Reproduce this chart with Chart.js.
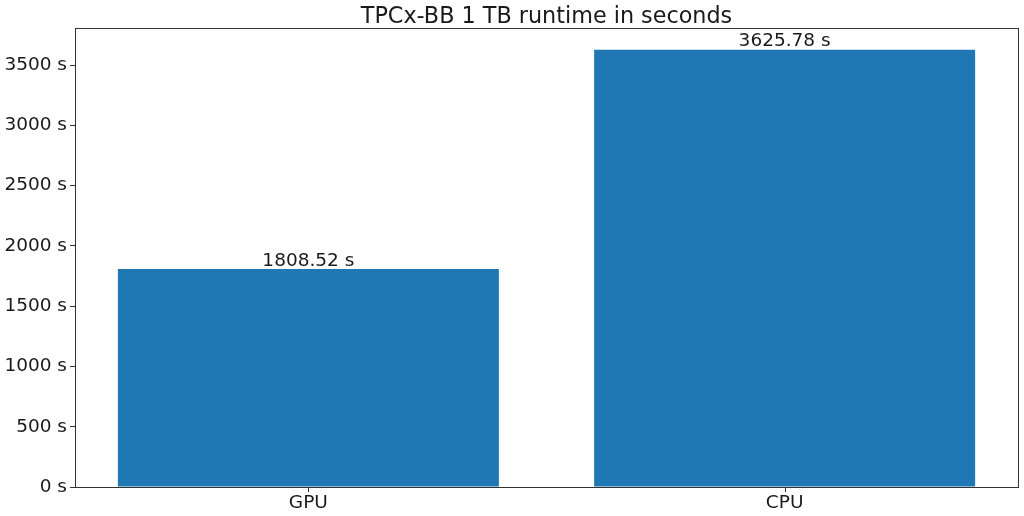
<!DOCTYPE html>
<html>
<head>
<meta charset="utf-8">
<script src="https://cdn.jsdelivr.net/npm/chart.js@4"></script>
<style>
  html, body { margin: 0; padding: 0; background: #fff; }
  #wrap { width: 1024px; height: 516px; }
</style>
</head>
<body>
<div id="wrap"><canvas id="runtimeBar"></canvas></div>
<script>
var categories = ["GPU", "CPU"];
var runtimes = [1808.52, 3625.78];
var yTicks = [0, 500, 1000, 1500, 2000, 2500, 3000, 3500];
var titleText = "TPCx-BB 1 TB runtime in seconds";

var FONT = "'DejaVu Sans', sans-serif";
var INK = "#1a1a1a";

// bars sit at x = 0, 1 on a linear axis so the margins match the original plot
var points = runtimes.map(function (v, i) { return { x: i, y: v }; });

// frame round the plot, x tick marks, title over the plot area, value on top of each bar
var boxAndLabels = {
  id: "boxAndLabels",
  afterDatasetsDraw: function (chart) {
    var ctx = chart.ctx;
    var area = chart.chartArea;
    var xs = chart.scales.x;
    ctx.save();
    ctx.strokeStyle = "#333";
    ctx.lineWidth = 1;
    ctx.strokeRect(area.left + 0.5, area.top + 0.5, area.right - area.left, area.bottom - area.top);
    categories.forEach(function (c, i) {
      var px = Math.round(xs.getPixelForValue(i)) + 0.5;
      ctx.beginPath();
      ctx.moveTo(px, area.bottom);
      ctx.lineTo(px, area.bottom + 5);
      ctx.stroke();
    });

    ctx.fillStyle = INK;
    ctx.textAlign = "center";
    ctx.textBaseline = "alphabetic";
    ctx.font = "22.3px " + FONT;
    ctx.fillText(titleText, (area.left + area.right) / 2, area.top - 5);

    ctx.font = "18.5px " + FONT;
    ctx.textBaseline = "bottom";
    var meta = chart.getDatasetMeta(0);
    meta.data.forEach(function (bar, i) {
      ctx.fillText(runtimes[i].toFixed(2) + " s", bar.x, bar.y + 1);
    });
    ctx.restore();
  }
};

var ctx = document.getElementById("runtimeBar");
var runtimeChart = new Chart(ctx, {
  type: "bar",
  data: {
    datasets: [{
      label: "runtime",
      data: points,
      backgroundColor: "#1f77b4",
      borderWidth: 0,
      categoryPercentage: 1.0,
      barPercentage: 0.8
    }]
  },
  options: {
    responsive: true,
    maintainAspectRatio: false,
    animation: false,
    layout: { padding: { left: 0, right: 6, top: 28, bottom: 0 } },
    plugins: {
      legend: { display: false },
      tooltip: { enabled: false },
      title: { display: false }
    },
    scales: {
      x: {
        type: "linear",
        min: -0.49,
        max: 1.49,
        offset: false,
        grid: { display: false },
        border: { display: true, color: "#333" },
        ticks: {
          color: INK,
          font: { family: FONT, size: 18.5 },
          padding: -3,
          callback: function (v) { return categories[v]; }
        },
        afterBuildTicks: function (scale) {
          scale.ticks = categories.map(function (c, i) { return { value: i }; });
        },
        afterFit: function (scale) { scale.height = 29; }
      },
      y: {
        min: 0,
        max: Math.max.apply(null, runtimes) * 1.05,
        grid: { display: true, drawOnChartArea: false, tickLength: 5, color: "#333" },
        border: { display: true, color: "#333" },
        ticks: {
          color: INK,
          font: { family: FONT, size: 18.5 },
          padding: 3,
          callback: function (v) { return v + " s"; }
        },
        afterBuildTicks: function (scale) {
          scale.ticks = yTicks.map(function (v) { return { value: v }; });
        },
        afterFit: function (scale) { scale.width = 75; }
      }
    }
  },
  plugins: [boxAndLabels]
});
</script>
</body>
</html>
